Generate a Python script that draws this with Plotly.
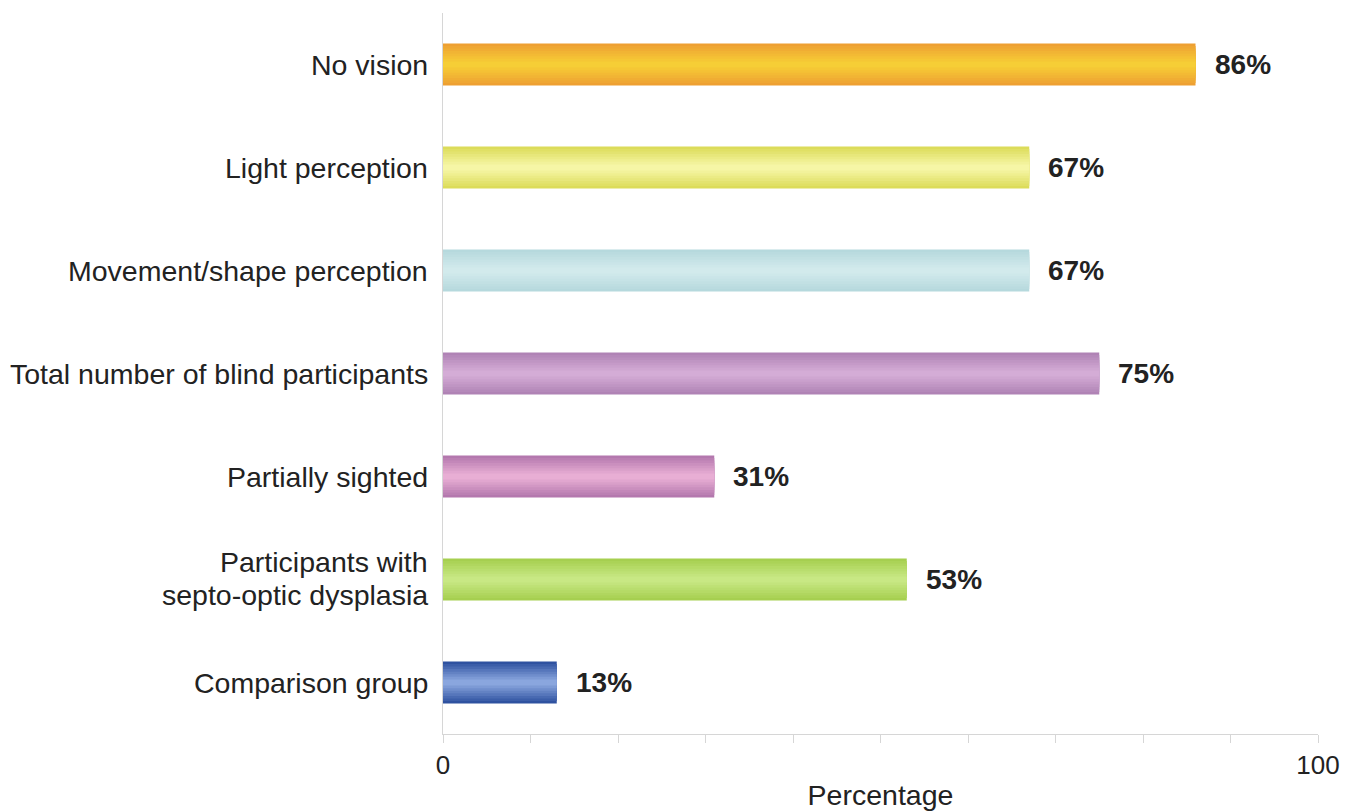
import plotly.graph_objects as go

categories = ["No vision", "Light perception", "Movement/shape perception",
              "Total number of blind participants", "Partially sighted",
              "Participants with<br>septo-optic dysplasia", "Comparison group"]
values = [86, 67, 67, 75, 31, 53, 13]
value_labels = ["86%", "67%", "67%", "75%", "31%", "53%", "13%"]
tick_values = [0, 10, 20, 30, 40, 50, 60, 70, 80, 90, 100]
tick_labels = ["0", "", "", "", "", "", "", "", "", "", "100"]

edge_colors = ["#EEA032", "#DCDC5A", "#B6D9DD", "#B083B5", "#B478AE", "#A6CF50", "#2F52A0"]
center_colors = ["#F6CE36", "#F6F6A6", "#D2EAEC", "#D4ACD6", "#E8AED4", "#C8E884", "#8AA6DE"]


def mix(c1, c2, t):
    a = [int(c1[i:i + 2], 16) for i in (1, 3, 5)]
    b = [int(c2[i:i + 2], 16) for i in (1, 3, 5)]
    return "rgb(%d,%d,%d)" % tuple(round(a[k] + (b[k] - a[k]) * t) for k in range(3))


FONT = "Liberation Sans, Arial, Helvetica, sans-serif"
widths = [0.41, 0.36, 0.31, 0.26, 0.21, 0.16, 0.11, 0.06]
fig = go.Figure()
n = len(widths)
for i, w in enumerate(widths):
    t = i / (n - 1)
    cols = [mix(e, c, t) for e, c in zip(edge_colors, center_colors)]
    fig.add_trace(go.Bar(
        y=categories, x=values, orientation="h", width=w,
        marker=dict(color=cols, line=dict(width=0)),
        hoverinfo="skip", showlegend=False,
    ))

for cat, v, lab in zip(categories, values, value_labels):
    fig.add_annotation(x=v, y=cat, text="<b>" + lab + "</b>", showarrow=False,
                       xanchor="left", xshift=17,
                       font=dict(family=FONT, size=28, color="#222"))

# category labels, one annotation per text line
LINE_STEP = 33
for cat in categories:
    lines = cat.split("<br>")
    k = len(lines)
    for j, line in enumerate(lines):
        fig.add_annotation(x=0, xref="paper", y=cat, yref="y", text=line,
                           showarrow=False, xanchor="right", xshift=-13,
                           yshift=(k - 1) * LINE_STEP / 2 - j * LINE_STEP + (1 if k > 1 else 0),
                           font=dict(family=FONT, size=28.5, color="#222"))

fig.update_layout(
    barmode="overlay",
    width=1361, height=812,
    margin=dict(l=435, r=51, t=5, b=86),
    paper_bgcolor="white", plot_bgcolor="white",
    font=dict(family=FONT, size=26, color="#222"),
)
fig.update_yaxes(
    categoryorder="array", categoryarray=categories, autorange="reversed",
    showline=True, linecolor="#d6d6d6", linewidth=1,
    showgrid=False, ticks="", showticklabels=False,
)
fig.update_xaxes(
    range=[0, 100], tickvals=tick_values, ticktext=tick_labels,
    showline=True, linecolor="#d6d6d6", linewidth=1,
    ticks="outside", ticklen=8, tickcolor="#d6d6d6",
    showgrid=False, zeroline=False,
    tickfont=dict(family=FONT, size=26, color="#222"),
    title=dict(text="Percentage", font=dict(family=FONT, size=28.5, color="#222"), standoff=5),
)

fig.write_html("out.html")
